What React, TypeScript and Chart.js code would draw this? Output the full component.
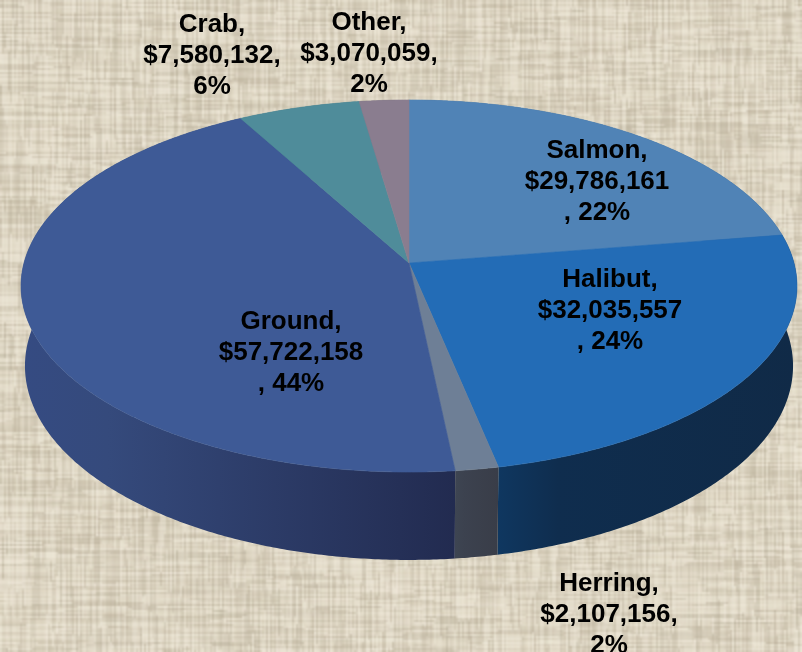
import React, { useEffect, useRef } from "react";
import { Chart, registerables } from "chart.js";

Chart.register(...registerables);

const categories = ["Salmon", "Halibut", "Herring", "Ground", "Crab", "Other"];
const values = [29786161, 32035557, 2107156, 57722158, 7580132, 3070059];
const percents = [22, 24, 2, 44, 6, 2];
const topColors = ["#5083b6", "#236cb6", "#6e7f96", "#3e5a96", "#4f8c9a", "#8a7d8f"];
const wallLeft = ["#2f5f8f", "#0f3760", "#3e4552", "#354b82", "#3a6a75", "#6a6070"];
const wallMid = ["#2f5f8f", "#0f2d4e", "#3c424f", "#354a7c", "#3a6a75", "#6a6070"];
const wallRight = ["#2f5f8f", "#102a47", "#393d48", "#222b50", "#3a6a75", "#6a6070"];
const valueOnOwnLineWithComma = [false, false, true, false, true, true];
const labelCenters: [number, number][] = [
  [597, 151], [610, 280], [609, 584], [291, 322], [212, 25], [369, 23],
];

const CX = 409, CY = 263, A = 385, B = 183.2, P = 0.1237, DEPTH = 79.2, RIM = 0.99;
const LINE_H = 31;

function project(theta: number, z = 0, r = 1): [number, number] {
  const u = Math.cos(theta) * r, v = Math.sin(theta) * r;
  const w = 1 - P * v;
  return [CX + (A * u) / w, CY + (B * v + z) / w];
}

function labelLines(i: number): string[] {
  const money = "$" + values[i].toLocaleString("en-US");
  return valueOnOwnLineWithComma[i]
    ? [categories[i] + ",", money + ",", percents[i] + "%"]
    : [categories[i] + ",", money, ", " + percents[i] + "%"];
}

let texture: HTMLCanvasElement | null = null;
function getTexture(w: number, h: number) {
  if (texture) return texture;
  // weave is drawn at reduced size, then scaled up so it comes out soft
  const sw = Math.ceil(w / 2), sh = Math.ceil(h / 2);
  const c = document.createElement("canvas");
  c.width = sw; c.height = sh;
  const g = c.getContext("2d")!;
  g.fillStyle = "#e0d8c5";
  g.fillRect(0, 0, sw, sh);
  let s = 12345;
  const rnd = () => ((s = (s * 1103515245 + 12345) & 0x7fffffff) / 0x7fffffff);
  for (let pass = 0; pass < 2; pass++) {
    const len = pass === 0 ? sw : sh;
    const cross = pass === 0 ? sh : sw;
    for (let a = 0; a < cross; a += 1) {
      let b = -4;
      while (b < len) {
        const run = 6 + rnd() * 30;
        const k = rnd();
        g.fillStyle = k < 0.55 ? `rgba(150,138,115,${rnd() * 0.22})` : `rgba(248,243,230,${rnd() * 0.32})`;
        if (pass === 0) g.fillRect(b, a, run, 1);
        else g.fillRect(a, b, 1, run);
        b += run;
      }
    }
  }
  const out = document.createElement("canvas");
  out.width = w; out.height = h;
  const o = out.getContext("2d")!;
  o.imageSmoothingEnabled = true;
  o.drawImage(c, 0, 0, w, h);
  texture = out;
  return out;
}

const pie3d = {
  id: "pie3d",
  beforeDraw(chart: any) {
    chart.ctx.drawImage(getTexture(chart.width, chart.height), 0, 0);
  },
  beforeDatasetsDraw(chart: any) {
    const ctx: CanvasRenderingContext2D = chart.ctx;
    const arcs = chart.getDatasetMeta(0).data;
    const bg = chart.data.datasets[0].backgroundColor as string[];
    const steps = (a: number, b: number) => Math.max(4, Math.ceil(Math.abs(b - a) * 120));

    ctx.save();
    arcs.forEach((arc: any, i: number) => {
      const s = arc.startAngle, e = arc.endAngle, n = steps(s, e);
      const top: [number, number][] = [], bot: [number, number][] = [];
      for (let k = 0; k <= n; k++) {
        const t = s + ((e - s) * k) / n;
        top.push(project(t));
        bot.push(project(t, DEPTH, RIM));
      }
      const xs = top.map((p) => p[0]);
      const grad = ctx.createLinearGradient(Math.min(...xs), 0, Math.max(...xs), 0);
      grad.addColorStop(0, wallLeft[i]);
      grad.addColorStop(0.2, wallMid[i]);
      grad.addColorStop(1, wallRight[i]);
      ctx.beginPath();
      top.forEach((p, k) => (k ? ctx.lineTo(p[0], p[1]) : ctx.moveTo(p[0], p[1])));
      bot.reverse().forEach((p) => ctx.lineTo(p[0], p[1]));
      ctx.closePath();
      ctx.fillStyle = grad;
      ctx.fill();
    });
    arcs.forEach((arc: any, i: number) => {
      const s = arc.startAngle, e = arc.endAngle, n = steps(s, e);
      ctx.beginPath();
      ctx.moveTo(CX, CY);
      for (let k = 0; k <= n; k++) {
        const p = project(s + ((e - s) * k) / n);
        ctx.lineTo(p[0], p[1]);
      }
      ctx.closePath();
      ctx.fillStyle = bg[i];
      ctx.strokeStyle = bg[i];
      ctx.lineWidth = 0.6;
      ctx.fill();
      ctx.stroke();
    });
    ctx.restore();
    return false;
  },
  afterDraw(chart: any) {
    const ctx: CanvasRenderingContext2D = chart.ctx;
    ctx.save();
    ctx.font = 'bold 26px "Liberation Sans", Arial, sans-serif';
    ctx.fillStyle = "#000000";
    ctx.textAlign = "center";
    ctx.textBaseline = "middle";
    categories.forEach((_, i) => {
      labelLines(i).forEach((line, k) => {
        ctx.fillText(line, labelCenters[i][0], labelCenters[i][1] + k * LINE_H);
      });
    });
    ctx.restore();
  },
};

export default function App() {
  const ref = useRef<HTMLCanvasElement>(null);
  useEffect(() => {
    const chart = new Chart(ref.current!, {
      type: "pie",
      data: {
        labels: categories,
        datasets: [{ data: values, backgroundColor: topColors, borderWidth: 0 }],
      },
      options: {
        animation: false,
        responsive: false,
        plugins: { legend: { display: false }, tooltip: { enabled: false } },
      },
      plugins: [pie3d],
    } as any);
    return () => chart.destroy();
  }, []);
  return (
    <div style={{ position: "fixed", left: 0, top: 0, width: 802, height: 652, overflow: "hidden" }}>
      <canvas ref={ref} width={802} height={652} style={{ display: "block" }} />
    </div>
  );
}
